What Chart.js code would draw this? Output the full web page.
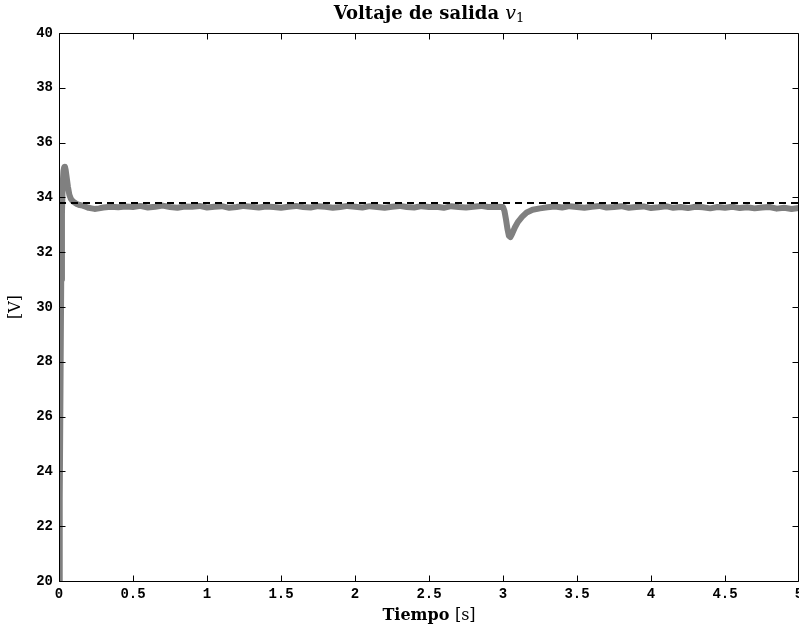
<!DOCTYPE html>
<html>
<head>
<meta charset="utf-8">
<script src="https://cdn.jsdelivr.net/npm/chart.js@4/dist/chart.umd.min.js"></script>
<style>
html,body{margin:0;padding:0;background:#fff;}
#wrap{width:799px;height:626px;position:relative;}
</style>
</head>
<body>
<div id="wrap"><canvas id="c" width="799" height="626"></canvas></div>
<script>
// ---- data ----
const time = [0,0.005,0.01,0.015,0.02,0.025,0.03,0.035,0.04,0.045,0.05,0.06,0.07,0.08,0.09,0.1,0.12,0.14,0.16,0.18,0.2,0.22,0.24,0.27,0.3,0.35,0.4,
  0.45,0.5,0.55,0.6,0.65,0.7,0.75,0.8,0.85,0.9,
  0.95,1.0,1.05,1.1,1.15,1.2,1.25,1.3,1.35,1.4,
  1.45,1.5,1.55,1.6,1.65,1.7,1.75,1.8,1.85,1.9,
  1.95,2.0,2.05,2.1,2.15,2.2,2.25,2.3,2.35,2.4,
  2.45,2.5,2.55,2.6,2.65,2.7,2.75,2.8,2.85,2.9,
  2.95,
  3.0,3.01,3.02,3.03,3.04,3.05,3.06,3.08,3.1,3.13,3.16,3.2,3.25,3.3,
  3.35,3.4,3.45,3.5,3.55,3.6,3.65,3.7,3.75,3.8,
  3.85,3.9,3.95,4.0,4.05,4.1,4.15,4.2,4.25,4.3,
  4.35,4.4,4.45,4.5,4.55,4.6,4.65,4.7,4.75,4.8,
  4.85,4.9,4.95,5.0];
const v1 = [20,23,27,31,33.4,34.5,34.95,35.1,35.12,35.0,34.8,34.4,34.1,33.95,33.88,33.83,33.76,33.72,33.7,33.66,33.62,33.6,33.58,33.6,33.63,33.66,33.64,
  33.67,33.65,33.69,33.63,33.66,33.7,33.65,33.62,33.67,33.66,
  33.69,33.63,33.66,33.68,33.62,33.65,33.69,33.66,33.63,33.67,
  33.65,33.62,33.66,33.69,33.65,33.63,33.68,33.66,33.62,33.65,
  33.69,33.66,33.63,33.68,33.65,33.62,33.66,33.69,33.65,33.63,
  33.68,33.65,33.66,33.62,33.68,33.65,33.63,33.66,33.69,33.65,
  33.66,
  33.65,33.5,33.2,32.85,32.6,32.55,32.65,32.9,33.1,33.3,33.45,33.55,33.6,33.64,
  33.67,33.63,33.68,33.65,33.62,33.66,33.69,33.63,33.65,33.68,
  33.62,33.65,33.67,33.61,33.64,33.68,33.62,33.65,33.61,33.66,
  33.64,33.6,33.65,33.62,33.66,33.61,33.64,33.6,33.63,33.65,
  33.59,33.62,33.58,33.61];
const refTime = [0,5];
const refV = [33.8,33.8];
const xTicks = [0,0.5,1,1.5,2,2.5,3,3.5,4,4.5,5];
const xTickLabels = ['0','0.5','1','1.5','2','2.5','3','3.5','4','4.5','5'];
const yTicks = [20,22,24,26,28,30,32,34,36,38,40];
const yTickLabels = ['20','22','24','26','28','30','32','34','36','38','40'];

const sigData = time.map((t,i)=>({x:t,y:v1[i]}));
const refData = refTime.map((t,i)=>({x:t,y:refV[i]}));

const frame = {
  id:'frame',
  afterDraw(chart){
    const ctx = chart.ctx, a = chart.chartArea;
    const xs = chart.scales.x, ys = chart.scales.y;
    ctx.save();
    ctx.strokeStyle = '#000';
    ctx.lineWidth = 1;
    const L = Math.round(a.left)+0.5, R = Math.round(a.right)-0.5, T = Math.round(a.top)+0.5, B = Math.round(a.bottom)+0.5;
    ctx.beginPath();
    ctx.rect(L, T, R-L, B-T);
    ctx.stroke();
    const tl = 6;
    ctx.beginPath();
    xTicks.forEach(v=>{
      const px = Math.round(xs.getPixelForValue(v))+0.5;
      ctx.moveTo(px,B); ctx.lineTo(px,B-tl);
      ctx.moveTo(px,T); ctx.lineTo(px,T+tl);
    });
    yTicks.forEach(v=>{
      const py = Math.round(ys.getPixelForValue(v))+0.5;
      ctx.moveTo(L,py); ctx.lineTo(L+tl,py);
      ctx.moveTo(R,py); ctx.lineTo(R-tl,py);
    });
    ctx.stroke();

    // title
    ctx.fillStyle = '#000';
    ctx.textBaseline = 'alphabetic';
    const cx = (a.left + a.right)/2;
    const f1 = 'bold 18px "DejaVu Serif"';
    const f2 = 'italic 19px "DejaVu Serif"';
    const f3 = '13px "DejaVu Serif"';
    const s1 = 'Voltaje de salida ';
    ctx.font = f1; const w1 = ctx.measureText(s1).width;
    ctx.font = f2; const w2 = ctx.measureText('v').width;
    ctx.font = f3; const w3 = ctx.measureText('1').width;
    let x0 = cx - (w1+w2+w3)/2;
    const by = 19;
    ctx.textAlign = 'left';
    ctx.font = f1; ctx.fillText(s1, x0, by); x0 += w1;
    ctx.font = f2; ctx.fillText('v', x0, by); x0 += w2;
    ctx.font = f3; ctx.fillText('1', x0, by+3);

    // x label
    const g1 = 'bold 16px "DejaVu Serif"';
    const g2 = '16px "DejaVu Serif"';
    ctx.font = g1; const a1 = ctx.measureText('Tiempo ').width;
    ctx.font = g2; const a2 = ctx.measureText('[s]').width;
    let xx = cx - (a1+a2)/2;
    ctx.font = g1; ctx.fillText('Tiempo ', xx, 620);
    ctx.font = g2; ctx.fillText('[s]', xx+a1, 620);

    // y label
    ctx.save();
    ctx.translate(20, 307);
    ctx.rotate(-Math.PI/2);
    ctx.textAlign = 'center';
    ctx.font = '16px "DejaVu Serif"';
    ctx.fillText('[V]', 0, 0);
    ctx.restore();
    ctx.restore();
  }
};

new Chart(document.getElementById('c'), {
  type:'line',
  data:{
    datasets:[
      {label:'ref', data:refData, borderColor:'#000', borderWidth:2, borderDash:[7,5], pointRadius:0, fill:false, tension:0},
      {label:'v1', data:sigData, borderColor:'#808080', borderWidth:6, borderJoinStyle:'round', borderCapStyle:'round', pointRadius:0, fill:false, tension:0}
    ]
  },
  plugins:[frame],
  options:{
    responsive:false,
    animation:false,
    events:[],
    layout:{padding:{top:33,left:0,right:0,bottom:0}},
    plugins:{legend:{display:false}, tooltip:{enabled:false}, title:{display:false}},
    scales:{
      x:{
        type:'linear', min:0, max:5,
        grid:{display:false, drawTicks:false},
        border:{display:false},
        ticks:{stepSize:0.5, autoSkip:false, maxRotation:0, padding:5, color:'#000',
          font:{family:'"Liberation Mono"', size:14, weight:'bold'},
          callback:(v)=>{const i = xTicks.indexOf(v); return i>=0 ? xTickLabels[i] : '';}},
        afterFit(s){ s.height = 45; s.paddingLeft = 0; s.paddingRight = 0; }
      },
      y:{
        type:'linear', min:20, max:40,
        grid:{display:false, drawTicks:false},
        border:{display:false},
        ticks:{stepSize:2, padding:6, color:'#000',
          font:{family:'"Liberation Mono"', size:14, weight:'bold'},
          callback:(v)=>{const i = yTicks.indexOf(v); return i>=0 ? yTickLabels[i] : '';}},
        afterFit(s){ s.width = 59; s.paddingTop = 0; s.paddingBottom = 0; }
      }
    }
  }
});
</script>
</body>
</html>
